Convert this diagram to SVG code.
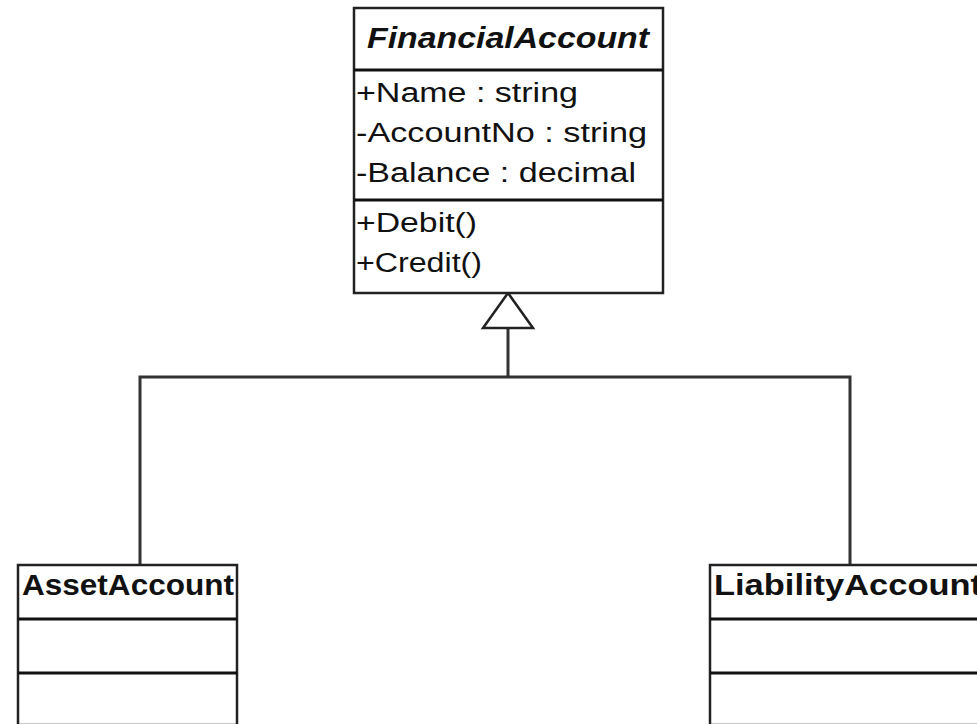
<svg xmlns="http://www.w3.org/2000/svg" width="977" height="724" viewBox="0 0 977 724">
<style>
.box{fill:#fff;stroke:#222;stroke-width:2.5}
.div{stroke:#111;stroke-width:3}
.t{font-family:"Liberation Sans",Arial,sans-serif;font-size:27px;fill:#111}
.h{font-family:"Liberation Sans",Arial,sans-serif;font-size:29px;font-weight:bold;fill:#111}
.conn{fill:none;stroke:#333;stroke-width:3}
</style>
<rect width="977" height="724" fill="#fff"/>
<g id="connectors">
<polyline class="conn" points="140,565 140,377 850,377 850,565"/>
<line class="conn" x1="508" y1="377" x2="508" y2="328"/>
<polygon points="508,293 483,328 533,328" fill="#fff" stroke="#222" stroke-width="2.5"/>
</g>
<g id="FinancialAccount">
<rect class="box" x="354" y="8" width="309" height="285"/>
<line class="div" x1="354" y1="70" x2="663" y2="70"/>
<line class="div" x1="354" y1="200" x2="663" y2="200"/>
<text class="h" x="367" y="48" font-style="italic" textLength="282" lengthAdjust="spacingAndGlyphs">FinancialAccount</text>
<text class="t" x="356" y="102" textLength="222" lengthAdjust="spacingAndGlyphs">+Name : string</text>
<text class="t" x="356" y="142" textLength="291" lengthAdjust="spacingAndGlyphs">-AccountNo : string</text>
<text class="t" x="356" y="182" textLength="280" lengthAdjust="spacingAndGlyphs">-Balance : decimal</text>
<text class="t" x="356" y="232" textLength="121" lengthAdjust="spacingAndGlyphs">+Debit()</text>
<text class="t" x="356" y="272" textLength="126" lengthAdjust="spacingAndGlyphs">+Credit()</text>
</g>
<g id="AssetAccount">
<rect class="box" x="18" y="565" width="219" height="160"/>
<line class="div" x1="18" y1="619" x2="237" y2="619"/>
<line class="div" x1="18" y1="673" x2="237" y2="673"/>
<text class="h" x="22" y="595" textLength="212" lengthAdjust="spacingAndGlyphs">AssetAccount</text>
</g>
<g id="LiabilityAccount">
<rect class="box" x="710" y="565" width="290" height="160"/>
<line class="div" x1="710" y1="619" x2="1000" y2="619"/>
<line class="div" x1="710" y1="673" x2="1000" y2="673"/>
<text class="h" x="714" y="595" textLength="268" lengthAdjust="spacingAndGlyphs">LiabilityAccount</text>
</g>
</svg>
